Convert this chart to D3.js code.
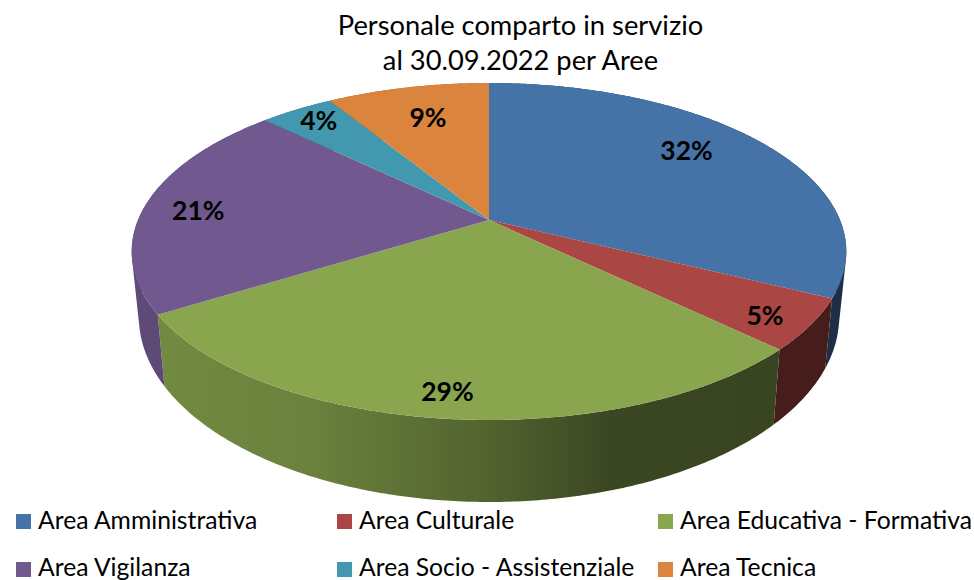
<!DOCTYPE html>
<html>
<head>
<meta charset="utf-8">
<script src="https://cdn.jsdelivr.net/npm/d3@7"></script>
<style>
  html, body { margin: 0; padding: 0; background: #fff; }
  svg { display: block; font-family: Lato, "Open Sans", sans-serif; }
</style>
</head>
<body>
<div id="chart"></div>
<script>
const titleLines = ["Personale comparto in servizio", "al 30.09.2022 per Aree"];
const categories = [
  "Area Amministrativa", "Area Culturale", "Area Educativa - Formativa",
  "Area Vigilanza", "Area Socio - Assistenziale", "Area Tecnica"
];
const percentages = [32.3, 4.9, 29, 21, 4, 8.8];
const colors = ["#4572a7", "#aa4643", "#89a54e", "#71588f", "#4198af", "#db843d"];

// where excel put each data label: share of the radius, degrees away from the mid angle
const labelRadius = [0.77, 0.883, 0.884, 0.84, 0.885, 0.745];
const labelShift = [-5.5, 1.5, 0.3, -1.9, 0.6, 0.5];

// side wall brightness, left to right
const wallShade = [[0, 0.84], [0.25, 0.78], [0.5, 0.6], [0.67, 0.43], [1, 0.41]];

const width = 974, height = 580;
const cx = 489, cy = 220;       // the pie's apex on screen
const rx = 351, ry = 162.6;     // before perspective
const tilt = 0.187;             // perspective strength, near side gets bigger

const svg = d3.select("#chart").append("svg")
  .attr("width", width)
  .attr("height", height);

// unit disc -> screen, top face
function topRim(u, v) {
  const w = 1 - tilt * v;
  return [cx + rx * u / w, cy + ry * v / w];
}

// same point on the lower rim
function bottomRim(u, v) {
  const p = topRim(u, v);
  return [cx + (p[0] - cx) * 0.98, cy + 62 + (p[1] - cy) * 1.1];
}

const onCircle = (fn, r = 1) => a => fn(r * Math.sin(a), -r * Math.cos(a));

function arcPoints(fn, a0, a1) {
  const n = Math.max(2, Math.ceil((a1 - a0) / 0.01));
  return d3.range(n + 1).map(i => onCircle(fn)(a0 + (a1 - a0) * i / n));
}

// wall as little quads in one path, all wound the same way so nonzero fill unions them
function wallPath(d) {
  const upper = arcPoints(topRim, d.startAngle, d.endAngle);
  const lower = arcPoints(bottomRim, d.startAngle, d.endAngle);
  return d3.range(upper.length - 1).map(i => {
    const quad = [upper[i], upper[i + 1], lower[i + 1], lower[i]];
    if (d3.polygonArea(quad) < 0) quad.reverse();
    return line(quad) + "Z";
  }).join("");
}

const slices = d3.pie().sort(null).value(d => d)(percentages);
const line = d3.line();

const defs = svg.append("defs");
const wallGradient = defs.selectAll("linearGradient")
  .data(colors)
  .enter()
  .append("linearGradient")
  .attr("id", (d, i) => "wall" + i)
  .attr("gradientUnits", "userSpaceOnUse")
  .attr("x1", cx - 357)
  .attr("x2", cx + 357)
  .attr("y1", 0)
  .attr("y2", 0);

wallGradient.selectAll("stop")
  .data(c => wallShade.map(s => ({ offset: s[0], shade: s[1], color: d3.rgb(c) })))
  .enter()
  .append("stop")
  .attr("offset", d => d.offset)
  .attr("stop-color", d => d3.rgb(d.color.r * d.shade, d.color.g * d.shade, d.color.b * d.shade));

// walls first, the top face hides the back half of them
svg.append("g").attr("class", "walls")
  .selectAll("path")
  .data(slices)
  .enter()
  .append("path")
  .attr("fill", (d, i) => "url(#wall" + i + ")")
  .attr("d", wallPath);

svg.append("g").attr("class", "faces")
  .selectAll("path")
  .data(slices)
  .enter()
  .append("path")
  .attr("fill", (d, i) => colors[i])
  .attr("d", d => line([[cx, cy]].concat(arcPoints(topRim, d.startAngle, d.endAngle))) + "Z");

svg.append("g").attr("class", "labels")
  .selectAll("text")
  .data(slices)
  .enter()
  .append("text")
  .attr("text-anchor", "middle")
  .attr("dominant-baseline", "central")
  .attr("font-size", 26.5)
  .attr("font-weight", 700)
  .attr("fill", "#000")
  .attr("transform", (d, i) => {
    const mid = (d.startAngle + d.endAngle) / 2 + labelShift[i] * Math.PI / 180;
    return "translate(" + onCircle(topRim, labelRadius[i])(mid) + ")";
  })
  .text(d => Math.round(d.value) + "%");

svg.append("g").attr("class", "title")
  .selectAll("text")
  .data(titleLines)
  .enter()
  .append("text")
  .attr("x", 520.5)
  .attr("y", (d, i) => 34.5 + i * 35.5)
  .attr("text-anchor", "middle")
  .attr("font-size", 27.3)
  .attr("fill", "#000")
  .text(d => d);

// legend is 3 columns x 2 rows
const legendX = d3.scalePoint().domain([0, 1, 2]).range([16, 658]);
const legendY = d3.scalePoint().domain([0, 1]).range([514, 562]);

const legendItem = svg.append("g").attr("class", "legend")
  .selectAll("g")
  .data(categories)
  .enter()
  .append("g")
  .attr("transform", (d, i) => "translate(" + legendX(i % 3) + "," + legendY(Math.floor(i / 3)) + ")");

legendItem.append("rect")
  .attr("width", 15)
  .attr("height", 15)
  .attr("fill", (d, i) => colors[i]);

legendItem.append("text")
  .attr("x", 22)
  .attr("y", (d, i) => i < 3 ? 15 : 14) // second row sits right on the bottom edge
  .attr("font-size", 24.7)
  .attr("fill", "#000")
  .text(d => d);
</script>
</body>
</html>
